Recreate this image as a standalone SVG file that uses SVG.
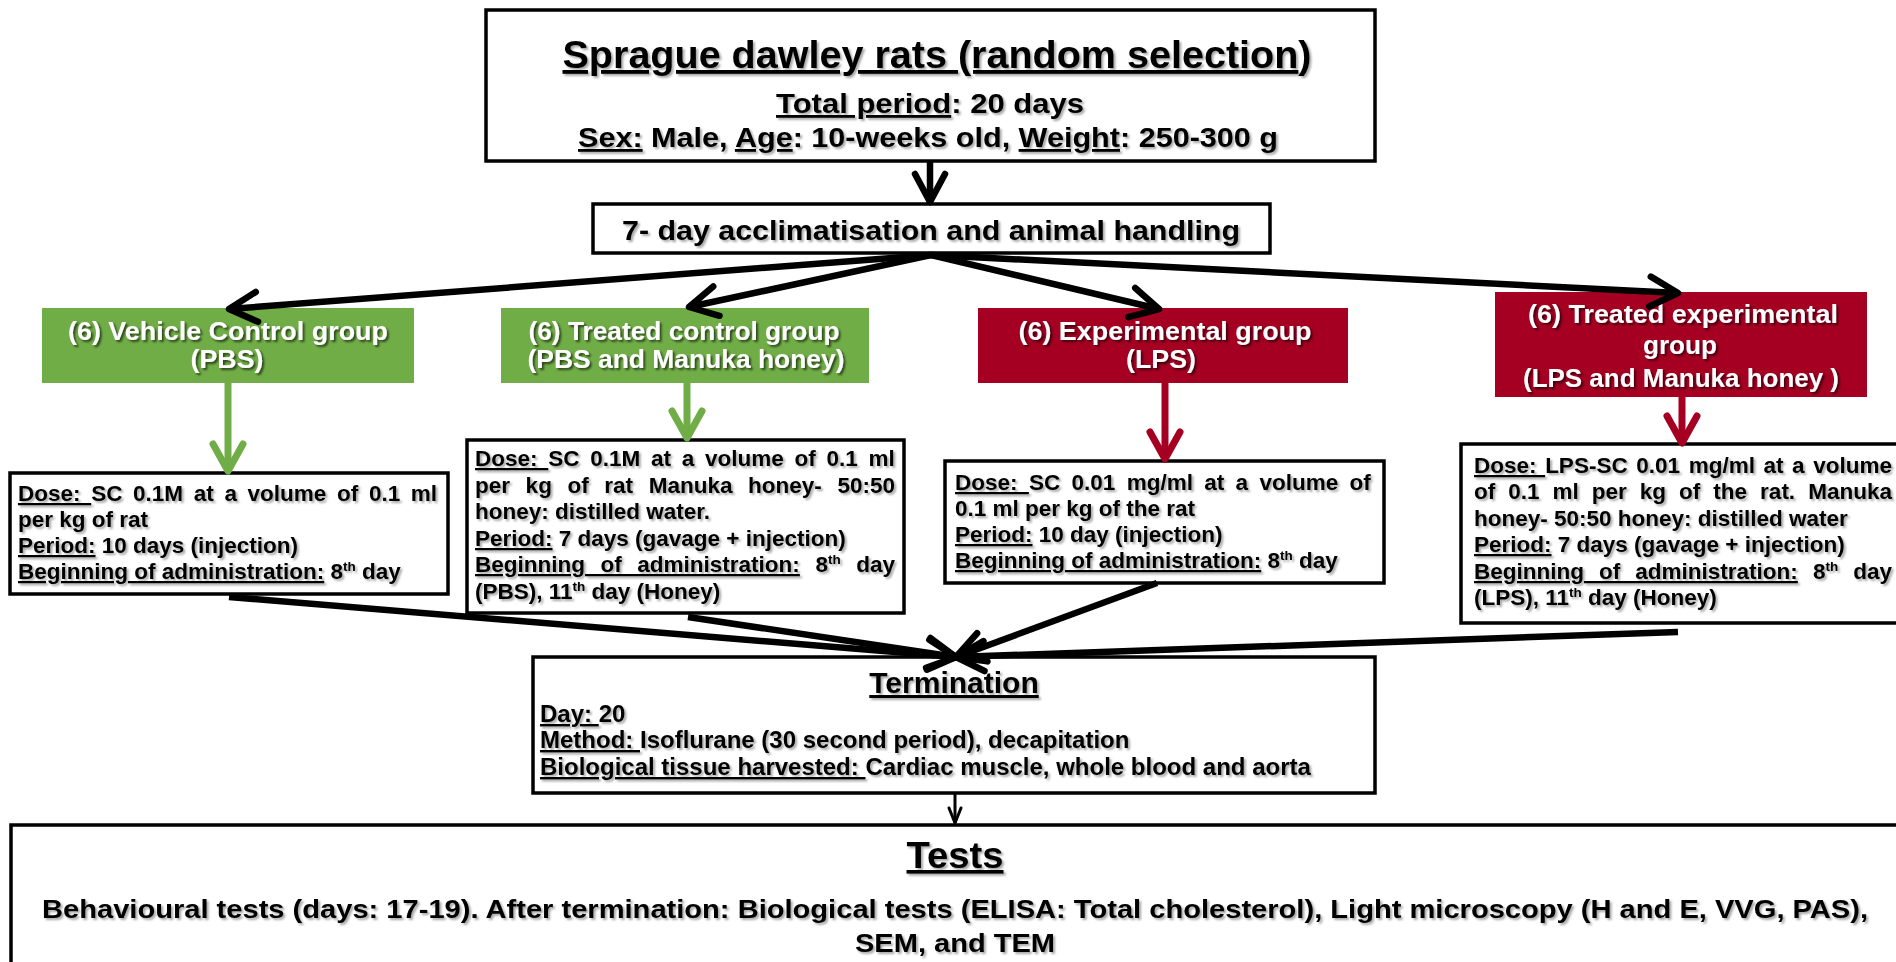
<svg xmlns="http://www.w3.org/2000/svg" width="1896" height="962" viewBox="0 0 1896 962">
<style>
text{font-family:'Liberation Sans',Arial,sans-serif;font-weight:bold;fill:#000}
.u{text-decoration:underline}
.c{text-anchor:middle}
.w{fill:#fff}
.box{fill:#fff;stroke:#000;stroke-width:3.5}
.grn{fill:#70AD47}
.red{fill:#A50021}
.conn{stroke:#000;stroke-width:6.5;fill:none}
.ib{font-size:22.5px}
.tb{font-size:24px}
.gl{font-size:25px}
</style>
<defs>
<filter id="sh" x="-5%" y="-20%" width="110%" height="140%"><feDropShadow dx="2" dy="2" stdDeviation="1" flood-color="#000" flood-opacity="0.35"/></filter>
<filter id="shw" x="-5%" y="-20%" width="110%" height="140%"><feDropShadow dx="2" dy="2" stdDeviation="1" flood-color="#000" flood-opacity="0.6"/></filter>
<marker id="ab" markerUnits="userSpaceOnUse" markerWidth="70" markerHeight="70" viewBox="-35 -35 70 70" refX="0" refY="0" orient="auto" overflow="visible"><path d="M-28,-15 L0,0 L-28,15" fill="none" stroke="#000" stroke-width="6.5" stroke-linecap="round" stroke-linejoin="round"/></marker>
<marker id="ag" markerUnits="userSpaceOnUse" markerWidth="70" markerHeight="70" viewBox="-35 -35 70 70" refX="0" refY="0" orient="auto" overflow="visible"><path d="M-27,-15 L0,0 L-27,15" fill="none" stroke="#70AD47" stroke-width="7" stroke-linecap="round" stroke-linejoin="round"/></marker>
<marker id="ar" markerUnits="userSpaceOnUse" markerWidth="70" markerHeight="70" viewBox="-35 -35 70 70" refX="0" refY="0" orient="auto" overflow="visible"><path d="M-27,-15 L0,0 L-27,15" fill="none" stroke="#A50021" stroke-width="7" stroke-linecap="round" stroke-linejoin="round"/></marker>
<marker id="as" markerUnits="userSpaceOnUse" markerWidth="40" markerHeight="40" viewBox="-20 -20 40 40" refX="0" refY="0" orient="auto" overflow="visible"><path d="M-15,-6 L0,0 L-15,6" fill="none" stroke="#000" stroke-width="3" stroke-linecap="round" stroke-linejoin="round"/></marker>
</defs>
<rect width="1896" height="962" fill="#fff"/>

<g id="start">
<rect class="box" stroke-width="3" x="486" y="10" width="889" height="151"/>
<g filter="url(#sh)">
<text class="c" x="937" y="68" font-size="38" textLength="749" lengthAdjust="spacingAndGlyphs"><tspan class="u">Sprague dawley rats (random selection</tspan>)</text>
<text class="c" x="930" y="113" font-size="28" textLength="308" lengthAdjust="spacingAndGlyphs"><tspan class="u">Total period</tspan>: 20 days</text>
<text class="c" x="928" y="147" font-size="28" textLength="700" lengthAdjust="spacingAndGlyphs"><tspan class="u">Sex:</tspan> Male, <tspan class="u">Age</tspan>: 10-weeks old, <tspan class="u">Weight</tspan>: 250-300 g</text>
</g>
</g>

<g id="acclimatisation">
<rect class="box" stroke-width="5" x="593" y="204" width="677" height="49"/>
<text class="c" x="931" y="240" font-size="28" textLength="618" lengthAdjust="spacingAndGlyphs" filter="url(#sh)">7- day acclimatisation and animal handling</text>
</g>

<g id="vehicle-control">
<rect class="grn" x="42" y="308" width="372" height="75"/>
<g class="gl" filter="url(#shw)">
<text class="c w" x="228" y="340" textLength="320" lengthAdjust="spacingAndGlyphs">(6) Vehicle Control group</text>
<text class="c w" x="227" y="368" textLength="73" lengthAdjust="spacingAndGlyphs">(PBS)</text>
</g>
</g>

<g id="treated-control">
<rect class="grn" x="501" y="308" width="368" height="75"/>
<g class="gl" filter="url(#shw)">
<text class="c w" x="684" y="340" textLength="311" lengthAdjust="spacingAndGlyphs">(6) Treated control group</text>
<text class="c w" x="686" y="368" textLength="317" lengthAdjust="spacingAndGlyphs">(PBS and Manuka honey)</text>
</g>
</g>

<g id="experimental">
<rect class="red" x="978" y="308" width="370" height="75"/>
<g class="gl" filter="url(#shw)">
<text class="c w" x="1165" y="340" textLength="293" lengthAdjust="spacingAndGlyphs">(6) Experimental group</text>
<text class="c w" x="1161" y="368" textLength="70" lengthAdjust="spacingAndGlyphs">(LPS)</text>
</g>
</g>

<g id="treated-experimental">
<rect class="red" x="1495" y="292" width="372" height="105"/>
<g class="gl" filter="url(#shw)">
<text class="c w" x="1683" y="323" textLength="310" lengthAdjust="spacingAndGlyphs">(6) Treated experimental</text>
<text class="c w" x="1680" y="354" textLength="74" lengthAdjust="spacingAndGlyphs">group</text>
<text class="c w" x="1681" y="387" textLength="316" lengthAdjust="spacingAndGlyphs">(LPS and Manuka honey )</text>
</g>
</g>

<g id="dose-vehicle">
<rect class="box" x="10" y="473" width="438" height="121"/>
<g class="ib" filter="url(#sh)">
<text x="18" y="501" word-spacing="4.4"><tspan class="u">Dose: </tspan>SC 0.1M at a volume of 0.1 ml</text>
<text x="18" y="527">per kg of rat</text>
<text x="18" y="553"><tspan class="u">Period:</tspan> 10 days (injection)</text>
<text x="18" y="579"><tspan class="u">Beginning of administration:</tspan> 8<tspan font-size="13.5" dy="-8">th</tspan><tspan dy="8"> day</tspan></text>
</g>
</g>

<g id="dose-treated-control">
<rect class="box" x="467" y="440" width="437" height="173"/>
<g class="ib" filter="url(#sh)">
<text x="475" y="466" word-spacing="4.5"><tspan class="u">Dose: </tspan>SC 0.1M at a volume of 0.1 ml</text>
<text x="475" y="493" word-spacing="9.35">per kg of rat Manuka honey- 50:50</text>
<text x="475" y="519">honey: distilled water.</text>
<text x="475" y="546"><tspan class="u">Period:</tspan> 7 days (gavage + injection)</text>
<text x="475" y="572" word-spacing="9.3"><tspan class="u">Beginning of administration:</tspan> 8<tspan font-size="13.5" dy="-8">th</tspan><tspan dy="8"> day</tspan></text>
<text x="475" y="599">(PBS), 11<tspan font-size="13.5" dy="-8">th</tspan><tspan dy="8"> day (Honey)</tspan></text>
</g>
</g>

<g id="dose-experimental">
<rect class="box" x="945" y="461" width="439" height="122"/>
<g class="ib" filter="url(#sh)">
<text x="955" y="490" word-spacing="5.1"><tspan class="u">Dose: </tspan>SC 0.01 mg/ml at a volume of</text>
<text x="955" y="516">0.1 ml per kg of the rat</text>
<text x="955" y="542"><tspan class="u">Period:</tspan> 10 day (injection)</text>
<text x="955" y="568"><tspan class="u">Beginning of administration:</tspan> 8<tspan font-size="13.5" dy="-8">th</tspan><tspan dy="8"> day</tspan></text>
</g>
</g>

<g id="dose-treated-experimental">
<rect class="box" x="1461" y="444" width="450" height="179"/>
<g class="ib" filter="url(#sh)">
<text x="1474" y="473" word-spacing="2.35"><tspan class="u">Dose: </tspan>LPS-SC 0.01 mg/ml at a volume</text>
<text x="1474" y="499" word-spacing="6.76">of 0.1 ml per kg of the rat. Manuka</text>
<text x="1474" y="526">honey- 50:50 honey: distilled water</text>
<text x="1474" y="552"><tspan class="u">Period:</tspan> 7 days (gavage + injection)</text>
<text x="1474" y="579" word-spacing="8.8"><tspan class="u">Beginning of administration:</tspan> 8<tspan font-size="13.5" dy="-8">th</tspan><tspan dy="8"> day</tspan></text>
<text x="1474" y="605">(LPS), 11<tspan font-size="13.5" dy="-8">th</tspan><tspan dy="8"> day (Honey)</tspan></text>
</g>
</g>

<g id="termination">
<rect class="box" stroke-width="3" x="533" y="657" width="842" height="136"/>
<g filter="url(#sh)">
<text class="c u" x="954" y="693" font-size="30">Termination</text>
<g class="tb">
<text x="540" y="722"><tspan class="u">Day: </tspan>20</text>
<text x="540" y="748"><tspan class="u">Method: </tspan>Isoflurane (30 second period), decapitation</text>
<text x="540" y="775"><tspan class="u">Biological tissue harvested: </tspan>Cardiac muscle, whole blood and aorta</text>
</g>
</g>
</g>

<g id="tests">
<rect class="box" stroke-width="4" x="11" y="825" width="1900" height="150"/>
<g filter="url(#sh)">
<text class="c u" x="955" y="868" font-size="36" textLength="97" lengthAdjust="spacingAndGlyphs">Tests</text>
<text class="c" x="955" y="918" font-size="26" textLength="1826" lengthAdjust="spacingAndGlyphs">Behavioural tests (days: 17-19). After termination: Biological tests (ELISA: Total cholesterol), Light microscopy (H and E, VVG, PAS),</text>
<text class="c" x="955" y="952" font-size="26" textLength="200" lengthAdjust="spacingAndGlyphs">SEM, and TEM</text>
</g>
</g>

<g id="connectors">
<line class="conn" stroke-width="5" x1="930" y1="161" x2="930" y2="202" marker-end="url(#ab)"/>
<line class="conn" x1="931" y1="255" x2="229" y2="309" marker-end="url(#ab)"/>
<line class="conn" x1="931" y1="255" x2="689" y2="307" marker-end="url(#ab)"/>
<line class="conn" x1="931" y1="255" x2="1159" y2="309" marker-end="url(#ab)"/>
<line class="conn" x1="931" y1="255" x2="1678" y2="293" marker-end="url(#ab)"/>
<line stroke="#70AD47" stroke-width="7" x1="228" y1="383" x2="228" y2="471" marker-end="url(#ag)"/>
<line stroke="#70AD47" stroke-width="7" x1="687" y1="383" x2="687" y2="438" marker-end="url(#ag)"/>
<line stroke="#A50021" stroke-width="7" x1="1165" y1="383" x2="1165" y2="459" marker-end="url(#ar)"/>
<line stroke="#A50021" stroke-width="7" x1="1682" y1="397" x2="1682" y2="443" marker-end="url(#ar)"/>
<line class="conn" x1="229" y1="597" x2="956" y2="657" marker-end="url(#ab)"/>
<line class="conn" x1="688" y1="617" x2="956" y2="657" marker-end="url(#ab)"/>
<line class="conn" x1="1157" y1="583" x2="956" y2="657" marker-end="url(#ab)"/>
<line class="conn" x1="1678" y1="632" x2="956" y2="657" marker-end="url(#ab)"/>
<line stroke="#000" stroke-width="3" x1="955" y1="793" x2="955" y2="823" marker-end="url(#as)"/>
</g>
</svg>
